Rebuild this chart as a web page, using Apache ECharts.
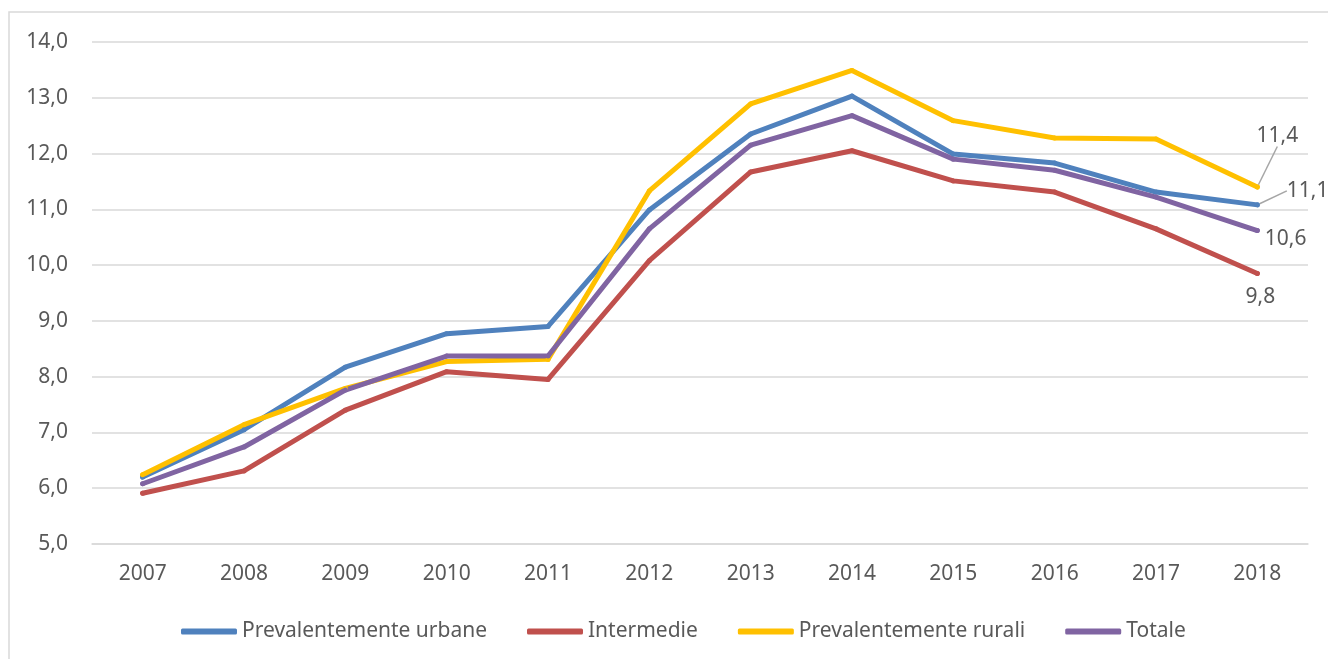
<!DOCTYPE html>
<html>
<head>
<meta charset="utf-8">
<script src="https://cdn.jsdelivr.net/npm/echarts@6/dist/echarts.min.js"></script>
<style>
  html, body { margin: 0; padding: 0; background: #fff; }
  #chart { width: 1328px; height: 659px; }
</style>
</head>
<body>
<div id="chart"></div>
<script>
// anni
var anni = ["2007", "2008", "2009", "2010", "2011", "2012", "2013", "2014", "2015", "2016", "2017", "2018"];
// valori
var urbane = [6.20, 7.05, 8.17, 8.77, 8.90, 10.99, 12.35, 13.03, 11.99, 11.83, 11.31, 11.08];
var intermedie = [5.91, 6.31, 7.40, 8.09, 7.95, 10.08, 11.67, 12.05, 11.51, 11.31, 10.65, 9.85];
var rurali = [6.24, 7.14, 7.79, 8.27, 8.31, 11.33, 12.89, 13.49, 12.59, 12.28, 12.26, 11.40];
var totale = [6.08, 6.74, 7.76, 8.37, 8.37, 10.65, 12.15, 12.68, 11.90, 11.70, 11.22, 10.62];
var nomi = ["Prevalentemente urbane", "Intermedie", "Prevalentemente rurali", "Totale"];
var colori = ["#4F81BD", "#C0504D", "#FFC000", "#8064A2"];

var font = "Noto Sans";
var grigio = "#595959";

function fmt(v) {
  return v.toFixed(1).replace(".", ",");
}

// solo l'ultimo punto ha l'etichetta
function conEtichetta(arr, label) {
  return arr.map(function (v, i) {
    if (i === arr.length - 1) {
      return { value: v, label: label };
    }
    return v;
  });
}

function serie(nome, dati, colore, label, layout, guida) {
  return {
    name: nome,
    type: "line",
    data: conEtichetta(dati, label),
    symbol: "circle",
    symbolSize: 5,
    showSymbol: true,
    color: colore,
    lineStyle: { width: 5, color: colore, cap: "round", join: "round" },
    itemStyle: { color: colore },
    labelLayout: layout,
    labelLine: { show: guida, lineStyle: { color: "#a6a6a6", width: 1.5 } },
    emphasis: { disabled: true },
    z: 3,
  };
}

var etichetta = {
  show: true,
  color: grigio,
  fontFamily: font,
  fontSize: 21,
  formatter: function (p) { return fmt(p.value); },
};

var myChart = echarts.init(document.getElementById("chart"));
var option = {
  backgroundColor: "#fff",
  animation: false,
  graphic: [
    {
      type: "rect",
      shape: { x: 9, y: 12, width: 1400, height: 700 },
      style: { fill: "none", stroke: "#d9d9d9", lineWidth: 1.5 },
      silent: true,
    },
  ],
  grid: { left: 92, right: 20, top: 42, bottom: 115 },
  legend: {
    left: 176,
    top: 616,
    icon: "roundRect",
    itemWidth: 56,
    itemHeight: 6,
    itemGap: 40,
    textStyle: { color: grigio, fontFamily: font, fontSize: 21 },
    data: nomi,
  },
  xAxis: {
    type: "category",
    data: anni,
    boundaryGap: true,
    axisLine: { lineStyle: { color: "#d9d9d9", width: 1.5 } },
    axisTick: { show: false },
    axisLabel: { color: grigio, fontFamily: font, fontSize: 21, margin: 20 },
  },
  yAxis: {
    type: "value",
    min: 5,
    max: 14,
    interval: 1,
    axisLine: { show: false },
    axisTick: { show: false },
    splitLine: { lineStyle: { color: "#d9d9d9", width: 1.5 } },
    axisLabel: {
      color: grigio,
      fontFamily: font,
      fontSize: 21,
      margin: 24,
      formatter: function (v) { return fmt(v); },
    },
  },
  series: [
    serie(nomi[0], urbane, colori[0],
      Object.assign({}, etichetta, { position: "right" }), { dx: 22, dy: -14 }, true),
    serie(nomi[1], intermedie, colori[1],
      Object.assign({}, etichetta, { position: "bottom" }), { dx: 3, dy: 6 }, false),
    serie(nomi[2], rurali, colori[2],
      Object.assign({}, etichetta, { position: "top" }), { dx: 20, dy: -33 }, true),
    serie(nomi[3], totale, colori[3],
      Object.assign({}, etichetta, { position: "right" }), { dx: 0, dy: 8 }, false),
  ],
};
myChart.setOption(option);
</script>
</body>
</html>
